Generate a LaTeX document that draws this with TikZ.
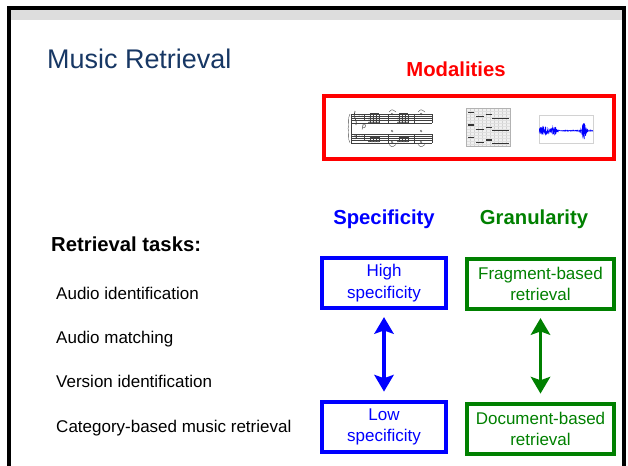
\documentclass[tikz,border=0pt]{standalone}
\usepackage{fontspec}
\setmainfont{Liberation Sans}
\usetikzlibrary{arrows.meta,positioning}

\definecolor{titleblue}{RGB}{23,55,100}
\definecolor{specblue}{RGB}{0,0,255}
\definecolor{granblue}{RGB}{0,0,255}
\definecolor{grangreen}{RGB}{0,128,0}
\definecolor{modred}{RGB}{255,0,0}

\tikzset{
  heading/.style={anchor=base,inner sep=0pt,font=\fontsize{17.3}{20}\selectfont\bfseries},
  task/.style={anchor=base west,inner sep=0pt,font=\fontsize{14.5}{17}\selectfont},
  levelbox/.style={draw,line width=3pt,align=center,inner sep=0pt,
    minimum height=1.5cm,font=\fontsize{14.5}{18.5}\selectfont},
  specbox/.style={levelbox,draw=specblue,text=specblue,minimum width=3.72cm},
  granbox/.style={levelbox,draw=grangreen,text=grangreen,minimum width=4.41cm},
  spanarrow/.style={line width=3pt,
    {Stealth[length=0.5cm,width=0.58cm,inset=0.1cm]}-{Stealth[length=0.5cm,width=0.58cm,inset=0.1cm]},
    shorten <=0.22cm,shorten >=0.26cm},
}

\begin{document}
\begin{tikzpicture}[x=0.03cm,y=-0.03cm,
    declare function={burst(\t,\c,\w)=1/(1+min(abs(\t-\c)/\w,8)^4);}]
    %initialisation
    \useasboundingbox (0,0) rectangle (628,465);
    %frame
    \fill[gray!27] (10,9) rectangle (623,20);
    \draw[line width=2.6pt] (9,470) -- (9,8) -- (624,8) -- (624,470);
    %title
    \node[anchor=base west,inner sep=0pt,text=titleblue,
      font=\fontsize{23}{27}\selectfont] (title) at (47,68) {Music Retrieval};
    %modalities
    \node[heading,text=modred] (modal) at (456,76) {Modalities};
    \draw[modred,line width=3pt] (324,96) rectangle (614,159);
    %score
    \begin{scope}[black!75,line width=0.3pt]
      \foreach \y in {0,...,4} {
        \draw (351,114+2.2*\y) -- (432,114+2.2*\y);
        \draw (351,134+2.2*\y) -- (432,134+2.2*\y);
      }
      \draw (351,114) -- (351,142.8);
      \foreach \x in {388,414,432} {
        \draw (\x,114) -- (\x,122.8);
        \draw (\x,134) -- (\x,142.8);
      }
      \draw (350,114) .. controls (347,118) and (350,126) .. (348,128.4)
        .. controls (350,131) and (347,139) .. (350,142.8);
      %clefs and keys
      \draw[line width=0.6pt] (355,111) .. controls (352,117) and (358,121) .. (356,125);
      \draw[line width=0.6pt] (354,135) .. controls (357,134) and (358,137) .. (355,139);
      \foreach \x in {359,362} {
        \fill (\x,116.2) circle (0.7);
        \fill (\x,136.2) circle (0.7);
      }
      \draw[line width=0.6pt] (364.5,115) -- (364.5,120) (364.5,135) -- (364.5,140);
      %beamed chords
      \foreach \s in {369,398} {
        \foreach \x in {0,3,6,9} {
          \fill (\s+\x,118.4) circle (0.9);
          \fill (\s+\x,120.6) circle (0.9);
          \fill (\s+\x,122.8) circle (0.9);
          \draw (\s+\x+0.8,122.8) -- (\s+\x+0.8,113.5);
          \fill (\s+\x,141.5) circle (0.9);
          \draw (\s+\x+0.8,141.5) -- (\s+\x+0.8,137);
        }
        \draw[line width=0.8pt] (\s+0.8,113.5) -- (\s+9.8,113.5);
        \draw[line width=0.8pt] (\s+0.8,137) -- (\s+9.8,137);
      }
      \node[font=\fontsize{6}{6}\selectfont\itshape] (dyn) at (364,127) {p};
      %held notes and ties
      \foreach \x in {392,421} {
        \draw (\x,114) circle (1);
        \draw (\x,131) circle (1);
        \draw (\x,142) circle (1);
        \draw (\x-3,112) .. controls (\x,109) .. (\x+4,112);
        \draw (\x-3,144.5) .. controls (\x,147.5) .. (\x+4,144.5);
      }
      \draw (418,122.8) -- (428,122.8);
    \end{scope}
    %piano roll
    \fill[gray!12] (466,108) rectangle (510,146);
    \foreach \x in {470,474,...,506}
      \draw[gray!35,line width=0.2pt] (\x,108) -- (\x,146);
    \foreach \y in {111,114,...,144}
      \draw[gray!25,line width=0.2pt] (466,\y) -- (510,\y);
    \draw[gray!60,line width=0.5pt] (466,108) rectangle (510,146);
    \foreach \xa/\xb/\y in {468/474/112.7,476/484/116.7,486/492/114.7,492/509/118.3,
        468/474/125,476/484/129.3,486/492/127.3,492/509/130.7,
        468/474/137.7,476/484/142.3,486/492/140,492/509/143.3}
      \draw[black!80,line width=0.9pt] (\xa,\y) -- (\xb,\y);
    %waveform
    \draw[gray!35,line width=0.4pt] (539,115) rectangle (593,143);
    \pgfmathsetseed{3}
    \draw[granblue,line width=0.3pt] plot[domain=0:54,samples=400]
      ({539+\x},{130.7+(0.4+4.5*burst(\x,5,4.5)+4*burst(\x,15,2.5)
        +9*burst(\x,45,2.2))*rand});
    %specificity
    \node[heading,text=specblue] (spec) at (384,224) {Specificity};
    \node[specbox] (hs) at (384,283) {High\\specificity};
    \node[specbox] (ls) at (384,427) {Low\\specificity};
    \draw[spanarrow,specblue] (hs) -- (ls);
    %granularity
    \node[heading,text=grangreen] (gran) at (534,224) {Granularity};
    \node[granbox] (fb) at (540.5,284) {Fragment-based\\retrieval};
    \node[granbox] (db) at (540.5,429) {Document-based\\retrieval};
    \draw[spanarrow,grangreen] (fb) -- (db);
    %tasks
    \node[heading,anchor=base west] (tasks) at (51,251) {Retrieval tasks:};
    \node[task] (t1) at (56,299.5) {Audio identification};
    \node[task] (t2) at (56,343) {Audio matching};
    \node[task] (t3) at (56,387) {Version identification};
    \node[task] (t4) at (56,432) {Category-based music retrieval};
\end{tikzpicture}
\end{document}
